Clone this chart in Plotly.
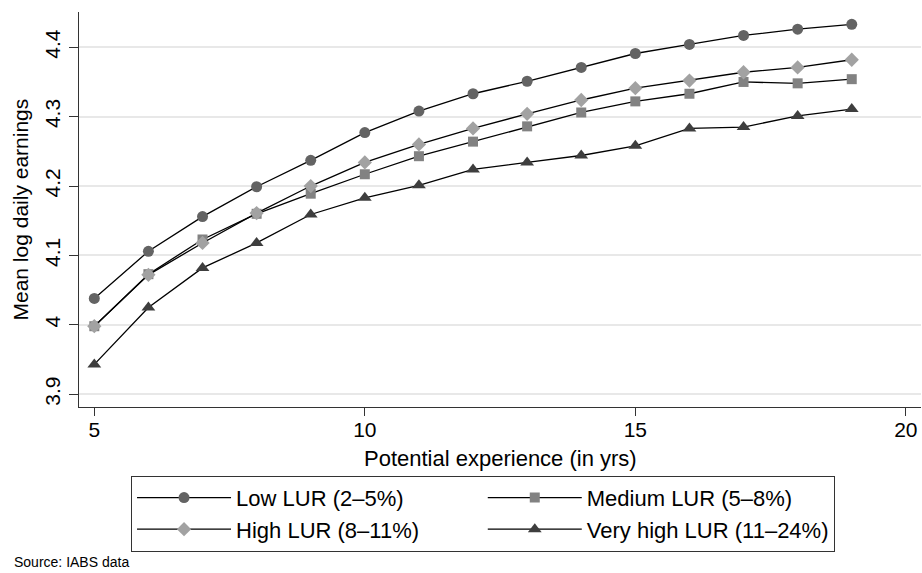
import plotly.graph_objects as go

# ---- data ----
experience = [5, 6, 7, 8, 9, 10, 11, 12, 13, 14, 15, 16, 17, 18, 19]
low_lur = [4.038, 4.106, 4.156, 4.199, 4.237, 4.277, 4.308, 4.333, 4.351, 4.371,
           4.391, 4.404, 4.417, 4.426, 4.433]
medium_lur = [3.998, 4.073, 4.123, 4.160, 4.189, 4.217, 4.243, 4.264, 4.286, 4.306,
              4.322, 4.333, 4.350, 4.348, 4.354]
high_lur = [3.998, 4.072, 4.118, 4.161, 4.200, 4.234, 4.260, 4.283, 4.304, 4.324,
            4.341, 4.352, 4.364, 4.371, 4.382]
very_high_lur = [3.943, 4.025, 4.082, 4.118, 4.159, 4.183, 4.201, 4.224, 4.234, 4.244,
                 4.258, 4.283, 4.285, 4.301, 4.311]

series_names = ["Low LUR (2–5%)", "Medium LUR (5–8%)",
                "High LUR (8–11%)", "Very high LUR (11–24%)"]
x_ticks = [5, 10, 15, 20]
y_ticks = [3.9, 4.0, 4.1, 4.2, 4.3, 4.4]
y_tick_text = ["3.9", "4", "4.1", "4.2", "4.3", "4.4"]

FONT = "Liberation Sans, Arial, Helvetica, sans-serif"

styles = [
    dict(symbol="circle", size=11, color="#636363"),
    dict(symbol="square", size=10, color="#828282"),
    dict(symbol="diamond", size=11, color="#a2a2a2"),
    dict(symbol="triangle-up", size=12, color="#3e3e3e"),
]
series = [low_lur, medium_lur, high_lur, very_high_lur]

fig = go.Figure()
for name, vals, st in zip(series_names, series, styles):
    fig.add_trace(go.Scatter(
        x=experience, y=vals, name=name, mode="lines+markers",
        line=dict(color="black", width=1.3),
        marker=dict(symbol=st["symbol"], size=st["size"], color=st["color"],
                    line=dict(width=0)),
    ))

fig.update_layout(
    width=922, height=573,
    margin=dict(l=79, r=1, t=12, b=166),
    paper_bgcolor="white", plot_bgcolor="white",
    font=dict(family=FONT, color="black", size=21),
    showlegend=True,
    legend=dict(
        orientation="h", x=0.0618, xanchor="left", y=-0.174, yanchor="top",
        bordercolor="#333333", borderwidth=1, bgcolor="white",
        font=dict(family=FONT, size=22, color="black"),
        itemwidth=94,
        traceorder="normal", itemclick=False, itemdoubleclick=False,
    ),
    xaxis=dict(
        range=[4.717, 20.28], tickmode="array", tickvals=x_ticks,
        ticks="outside", ticklen=8, tickwidth=1.2, tickcolor="#333333",
        showline=True, linecolor="#333333", linewidth=1.3,
        showgrid=False, zeroline=False, ticklabelstandoff=-4,
        tickfont=dict(family=FONT, size=21, color="black"),
    ),
    yaxis=dict(
        range=[3.8816, 4.4508], tickmode="array", tickvals=y_ticks,
        ticktext=y_tick_text, tickangle=-90,
        ticks="outside", ticklen=9, tickwidth=1.2, tickcolor="#333333",
        showline=True, linecolor="#333333", linewidth=1.3,
        showgrid=True, gridcolor="#e8e8e8", gridwidth=1.5, zeroline=False,
        tickfont=dict(family=FONT, size=21, color="black"),
    ),
    annotations=[
        dict(text="Potential experience (in yrs)", xref="paper", yref="paper",
             x=0.5, y=0, xanchor="center", yanchor="middle", yshift=-51,
             showarrow=False, font=dict(family=FONT, size=22, color="black")),
        dict(text="Mean log daily earnings", xref="paper", yref="paper",
             x=0, y=0.5, xanchor="center", yanchor="middle", xshift=-59,
             textangle=-90, showarrow=False,
             font=dict(family=FONT, size=21, color="black")),
        dict(text="Source: IABS data", xref="paper", yref="paper",
             x=0, y=0, xanchor="left", yanchor="middle", xshift=-67, yshift=-155,
             showarrow=False, font=dict(family=FONT, size=14, color="black")),
    ],
)

fig.write_html("out.html")
